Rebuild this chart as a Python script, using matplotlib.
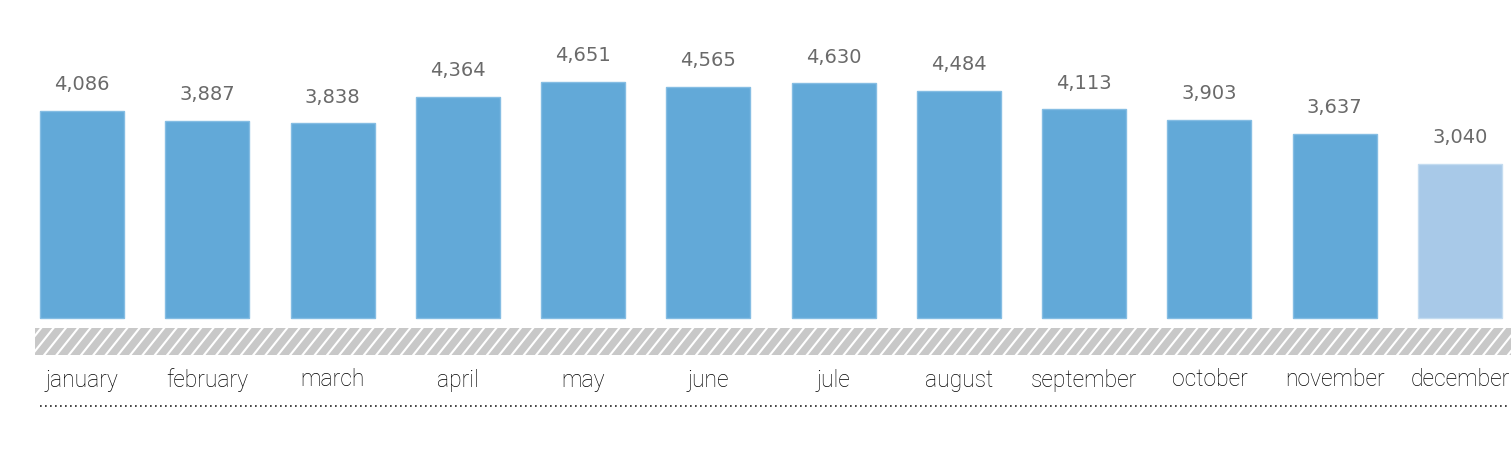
import matplotlib
matplotlib.use("Agg")
import matplotlib.pyplot as plt
from matplotlib.patches import Rectangle
from matplotlib.lines import Line2D
import numpy as np

months = ["january", "february", "march", "april", "may", "june",
          "jule", "august", "september", "october", "november", "december"]
values = [4086, 3887, 3838, 4364, 4651, 4565, 4630, 4484, 4113, 3903, 3637, 3040]
highlight = [False] * 11 + [True]

W, H = 1511, 453
fig = plt.figure(figsize=(W / 100, H / 100), dpi=100)
ax = fig.add_axes([0, 0, 1, 1])

step = 125.27
c0 = 82.0
upp = 19.72  # units per pixel
zero_px = 318  # from top
ax.set_xlim(-c0 / step, (W - c0) / step)
ax.set_ylim(-(H - zero_px) * upp, zero_px * upp)
ax.axis("off")

x = np.arange(len(months))
colors = ["#a8c9e8" if h else "#62a9d8" for h in highlight]
edges = ["#c4dcf0" if h else "#85bde3" for h in highlight]
ax.bar(x, values, width=84 / step, color=colors, edgecolor=edges, linewidth=1)

for xi, v in zip(x, values):
    ax.annotate(f"{v:,}", (xi, v), xytext=(0, 12), textcoords="offset points",
                ha="center", va="bottom", fontsize=14, color="#6a6a6a",
                fontweight="normal", family="DejaVu Sans")

# hatched band (figure pixel coords)
bx0, bx1 = 35, W
by0, by1 = H - 355, H - 328
band = Rectangle((bx0 / W, by0 / H), (bx1 - bx0) / W, (by1 - by0) / H,
                 transform=fig.transFigure, facecolor="#c8c8c8", edgecolor="none", zorder=1)
fig.patches.append(band)
bh = by1 - by0
for s in np.arange(bx0 - 40, bx1 + 40, 12.3):
    ln = Line2D([s / W, (s + bh * 0.8) / W], [by0 / H, by1 / H], transform=fig.transFigure,
                color="white", linewidth=1.5, zorder=2)
    ln.set_clip_path(band)
    fig.lines.append(ln)

# month labels
for xi, m in zip(x, months):
    ax.text(xi, -(380 - zero_px) * upp, m, ha="center", va="center", fontsize=16.5,
            color="#000000", fontweight="light", family=["Roboto", "DejaVu Sans"])

# dotted line
fig.lines.append(Line2D([40 / W, 1508 / W], [(H - 406) / H] * 2, transform=fig.transFigure,
                        color="#222222", linewidth=1.2, linestyle=(0, (1, 2.0))))

fig.savefig("out.png", dpi=100, facecolor="white")
